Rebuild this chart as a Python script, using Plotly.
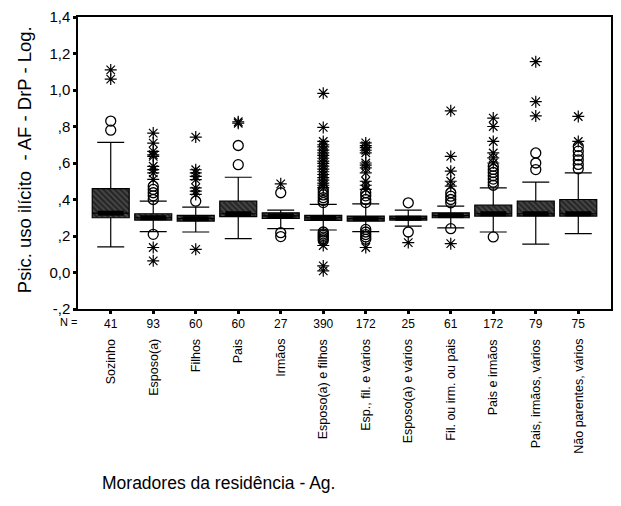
import plotly.graph_objects as go

categories = ["Sozinho", "Esposo(a)", "Filhos", "Pais", "Irmãos", "Esposo(a) e filhos",
              "Esp., fil. e vários", "Esposo(a) e vários", "Fil. ou irm. ou pais",
              "Pais e irmãos", "Pais, irmãos, vários", "Não parentes, vários"]
n_values = [41, 93, 60, 60, 27, 390, 172, 25, 61, 172, 79, 75]

q1 = [0.300, 0.287, 0.282, 0.306, 0.296, 0.286, 0.282, 0.287, 0.300, 0.309, 0.309, 0.309]
median = [0.325, 0.300, 0.295, 0.322, 0.310, 0.300, 0.295, 0.297, 0.312, 0.322, 0.322, 0.322]
q3 = [0.460, 0.322, 0.313, 0.391, 0.327, 0.313, 0.309, 0.309, 0.327, 0.369, 0.391, 0.400]
lower_whisker = [0.140, 0.224, 0.222, 0.186, 0.240, 0.233, 0.224, 0.254, 0.245, 0.222, 0.155, 0.213]
upper_whisker = [0.713, 0.391, 0.358, 0.522, 0.342, 0.373, 0.376, 0.342, 0.364, 0.464, 0.495, 0.546]

outliers_circle = [
    [0.83, 0.78],
    [0.473, 0.455, 0.437, 0.42, 0.40, 0.209],
    [0.391],
    [0.696, 0.591],
    [0.437, 0.218, 0.197],
    [0.455, 0.44, 0.425, 0.41, 0.395, 0.383, 0.222, 0.212, 0.203, 0.194, 0.185, 0.176],
    [0.437, 0.42, 0.40, 0.383, 0.236, 0.222, 0.208, 0.195, 0.182],
    [0.382, 0.222],
    [0.437, 0.418, 0.40, 0.382, 0.24],
    [0.582, 0.565, 0.548, 0.53, 0.512, 0.495, 0.478, 0.195],
    [0.655, 0.60, 0.564],
    [0.69, 0.665, 0.64, 0.617, 0.592, 0.568],
]
outliers_star = [
    [1.11, 1.06],
    [0.764, 0.709, 0.664, 0.645, 0.636, 0.582, 0.564, 0.546, 0.51, 0.137, 0.064],
    [0.742, 0.563, 0.546, 0.527, 0.509, 0.464, 0.446, 0.428, 0.127],
    [0.818, 0.826],
    [0.486],
    [0.982, 0.795, 0.718, 0.70, 0.688, 0.671, 0.655, 0.642, 0.626, 0.61, 0.598, 0.583,
     0.566, 0.552, 0.537, 0.52, 0.506, 0.49, 0.478, 0.465, 0.148, 0.036, 0.009],
    [0.71, 0.695, 0.684, 0.67, 0.656, 0.60, 0.588, 0.573, 0.546, 0.50, 0.478, 0.455, 0.137],
    [0.164],
    [0.886, 0.636, 0.555, 0.50, 0.473, 0.158],
    [0.846, 0.80, 0.718, 0.655, 0.628, 0.60],
    [1.155, 0.936, 0.858],
    [0.855, 0.718],
]

y_ticks = [-0.2, 0.0, 0.2, 0.4, 0.6, 0.8, 1.0, 1.2, 1.4]
y_tick_text = ["-,2", "0,0", ",2", ",4", ",6", ",8", "1,0", "1,2", "1,4"]

FONT = "Arial, Liberation Sans, sans-serif"
xpos = list(range(len(categories)))
BOX_W = 0.87

fig = go.Figure()

# hatched box bodies
fig.add_trace(go.Bar(
    x=xpos, base=q1, y=[b - a for a, b in zip(q1, q3)], width=BOX_W,
    marker=dict(color="#333333", line=dict(width=0),
                pattern=dict(shape="\\", fgcolor="#000000", bgcolor="#4a4a4a", size=4, solidity=0.55)),
    hoverinfo="skip", showlegend=False))

# box outlines and whiskers
fig.add_trace(go.Box(
    x=xpos, q1=q1, median=median, q3=q3, lowerfence=lower_whisker, upperfence=upper_whisker,
    width=BOX_W, whiskerwidth=0.73, boxpoints=False,
    fillcolor="rgba(0,0,0,0)", line=dict(color="black", width=1.2), showlegend=False))

# thick median band
fig.add_trace(go.Scatter(
    x=xpos, y=median, mode="markers",
    marker=dict(symbol="line-ew", size=18.5, line=dict(color="black", width=5)),
    showlegend=False, hoverinfo="skip"))

cx, cy, sx, sy = [], [], [], []
for i in xpos:
    for v in outliers_circle[i]:
        cx.append(i); cy.append(v)
    for v in outliers_star[i]:
        sx.append(i); sy.append(v)

fig.add_trace(go.Scatter(
    x=cx, y=cy, mode="markers",
    marker=dict(symbol="circle-open", size=10, color="black", line=dict(width=1.3)),
    showlegend=False))
fig.add_trace(go.Scatter(
    x=sx, y=sy, mode="markers",
    marker=dict(symbol="asterisk-open", size=10, color="black", line=dict(width=1.2, color="black")),
    showlegend=False))

annotations = []
for i, c in enumerate(categories):
    annotations.append(dict(x=i, xref="x", y=-(337 - 309) / 292, yref="paper",
                            text=c, textangle=-90, showarrow=False,
                            xanchor="center", yanchor="top",
                            font=dict(size=12.5, family=FONT, color="black")))
annotations.append(dict(x=(68 - 78) / 535, xref="paper", y=-(322 - 309) / 292, yref="paper",
                        text="N =", showarrow=False, xanchor="center", yanchor="middle",
                        font=dict(size=11, family=FONT, color="black")))
annotations.append(dict(x=(24 - 78) / 535, xref="paper", y=(309 - 160) / 292, yref="paper",
                        text="Psic. uso ilícito  - AF - DrP - Log.", textangle=-90, showarrow=False,
                        xanchor="center", yanchor="middle",
                        font=dict(size=18.5, family=FONT, color="black")))
annotations.append(dict(x=(100 - 78) / 535, xref="paper", y=-(483 - 309) / 292, yref="paper",
                        text="Moradores da residência - Ag.", showarrow=False,
                        xanchor="left", yanchor="middle",
                        font=dict(size=17.5, family=FONT, color="black")))

fig.update_layout(
    width=621, height=506,
    margin=dict(l=78, r=8, t=17, b=197),
    paper_bgcolor="white", plot_bgcolor="white",
    barmode="overlay",
    showlegend=False,
    font=dict(family=FONT, color="black"),
    annotations=annotations,
    xaxis=dict(range=[-0.77, 11.77], tickvals=xpos, ticktext=[str(n) for n in n_values],
               ticks="outside", ticklen=3, tickwidth=3, tickcolor="black",
               showline=True, mirror=True, linecolor="black", linewidth=1.5,
               showgrid=False, zeroline=False, tickfont=dict(size=12, family=FONT, color="black")),
    yaxis=dict(range=[-0.2, 1.4], tickvals=y_ticks, ticktext=y_tick_text,
               ticks="outside", ticklen=3, tickwidth=3, tickcolor="black",
               showline=True, mirror=True, linecolor="black", linewidth=1.5,
               showgrid=False, zeroline=False, tickfont=dict(size=15, family=FONT, color="black")),
)

fig.write_html("out.html")
